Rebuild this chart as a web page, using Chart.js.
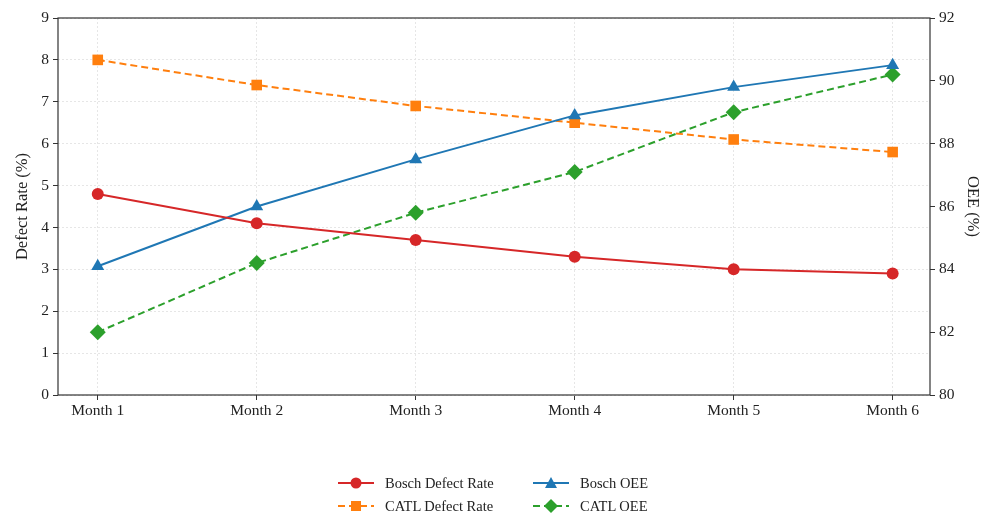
<!DOCTYPE html>
<html>
<head>
<meta charset="utf-8">
<script src="https://cdn.jsdelivr.net/npm/chart.js@4.4.1/dist/chart.umd.min.js"></script>
<style>
    body { margin: 0; background: #fff; }
    #wrap { position: relative; width: 988px; height: 515px; }
    #legend {
        position: absolute; left: 338px; top: 473px;
        display: grid; grid-template-columns: 195px 160px; row-gap: 3px;
        font-family: 'Liberation Serif', serif; font-size: 14.5px; color: #222;
    }
    #legend div { display: flex; align-items: center; height: 20px; }
    #legend svg { margin-right: 11px; }
</style>
</head>
<body>
<div id="wrap">
    <canvas id="chart" width="988" height="515"></canvas>
    <div id="legend"></div>
</div>
<script>
// Chart data
const months = ['Month 1', 'Month 2', 'Month 3', 'Month 4', 'Month 5', 'Month 6'];
const boschDefect = [4.8, 4.1, 3.7, 3.3, 3.0, 2.9];
const catlDefect = [8.0, 7.4, 6.9, 6.5, 6.1, 5.8];
const boschOEE = [84.1, 86.0, 87.5, 88.9, 89.8, 90.5];
const catlOEE = [82.0, 84.2, 85.8, 87.1, 89.0, 90.2];
const defectTicks = [0, 1, 2, 3, 4, 5, 6, 7, 8, 9];
const oeeTicks = [80, 82, 84, 86, 88, 90, 92];

const colors = {
    red: '#d62728',
    orange: '#ff7f0e',
    blue: '#1f77b4',
    green: '#2ca02c'
};

const font = { family: "'Liberation Serif', serif", size: 15.5 };
const titleFont = { family: "'Liberation Serif', serif", size: 16.5 };

function toPoints(values) {
    return values.map((v, i) => ({ x: i, y: v }));
}

// Draw a frame around the plot area
const framePlugin = {
    id: 'frame',
    afterDraw(chart) {
        const { ctx, chartArea: a } = chart;
        ctx.save();
        ctx.strokeStyle = '#333';
        ctx.lineWidth = 1.2;
        ctx.strokeRect(a.left, a.top, a.right - a.left, a.bottom - a.top);
        ctx.restore();
    }
};

const markerRadius = { circle: 6, triangle: 7.5, rect: 7.5, rectRot: 8 };

const series = [
    { label: 'Bosch Defect Rate', data: boschDefect, color: colors.red, axis: 'y', style: 'circle', dash: [] },
    { label: 'Bosch OEE', data: boschOEE, color: colors.blue, axis: 'y1', style: 'triangle', dash: [] },
    { label: 'CATL Defect Rate', data: catlDefect, color: colors.orange, axis: 'y', style: 'rect', dash: [7, 4] },
    { label: 'CATL OEE', data: catlOEE, color: colors.green, axis: 'y1', style: 'rectRot', dash: [7, 4] }
];

new Chart(document.getElementById('chart').getContext('2d'), {
    type: 'line',
    data: {
        datasets: series.map(s => ({
            label: s.label,
            data: toPoints(s.data),
            yAxisID: s.axis,
            borderColor: s.color,
            backgroundColor: s.color,
            borderWidth: 2,
            borderDash: s.dash,
            pointStyle: s.style,
            pointRadius: markerRadius[s.style],
            pointBorderWidth: 0,
            tension: 0
        }))
    },
    options: {
        responsive: false,
        animation: false,
        layout: { padding: { top: 18, bottom: 90, left: 0, right: 0 } },
        plugins: { legend: { display: false }, tooltip: { enabled: false } },
        scales: {
            x: {
                type: 'linear',
                min: -0.25,
                max: 5.235,
                afterBuildTicks: axis => { axis.ticks = months.map((m, i) => ({ value: i })); },
                afterFit: axis => { axis.height = 30; },
                ticks: { font, color: '#222', callback: v => months[v], padding: 2 },
                grid: { color: '#e6e6e6', tickColor: '#333', tickLength: 5, tickBorderDash: [] },
                border: { display: false, dash: [2, 2] }
            },
            y: {
                position: 'left',
                min: 0,
                max: 9,
                afterBuildTicks: axis => { axis.ticks = defectTicks.map(v => ({ value: v })); },
                afterFit: axis => { axis.width = 58; },
                ticks: { font, color: '#222', padding: 4 },
                title: { display: true, text: 'Defect Rate (%)', font: titleFont, color: '#222', padding: { top: 13, bottom: 0 } },
                grid: { color: '#e6e6e6', tickColor: '#333', tickLength: 5, tickBorderDash: [] },
                border: { display: false, dash: [2, 2] }
            },
            y1: {
                position: 'right',
                min: 80,
                max: 92,
                afterBuildTicks: axis => { axis.ticks = oeeTicks.map(v => ({ value: v })); },
                afterFit: axis => { axis.width = 58; },
                ticks: { font, color: '#222', padding: 4 },
                title: { display: true, text: 'OEE (%)', font: titleFont, color: '#222', padding: { top: 6, bottom: 0 } },
                grid: { drawOnChartArea: false, tickColor: '#333', tickLength: 5 },
                border: { display: false }
            }
        }
    },
    plugins: [framePlugin]
});

// HTML legend with line + marker samples
function markerSvg(s) {
    const c = s.color;
    let m = '';
    if (s.style === 'circle') m = `<circle cx="18" cy="8" r="5.5" fill="${c}"/>`;
    if (s.style === 'triangle') m = `<polygon points="18,2 24,13 12,13" fill="${c}"/>`;
    if (s.style === 'rect') m = `<rect x="13" y="3" width="10" height="10" fill="${c}"/>`;
    if (s.style === 'rectRot') m = `<polygon points="18,1 25,8 18,15 11,8" fill="${c}"/>`;
    const dash = s.dash.length ? 'stroke-dasharray="7,4"' : '';
    return `<svg width="36" height="16"><line x1="0" y1="8" x2="36" y2="8" stroke="${c}" stroke-width="2" ${dash}/>${m}</svg>`;
}

document.getElementById('legend').innerHTML = series
    .map(s => `<div>${markerSvg(s)}<span>${s.label}</span></div>`)
    .join('');
</script>
</body>
</html>
